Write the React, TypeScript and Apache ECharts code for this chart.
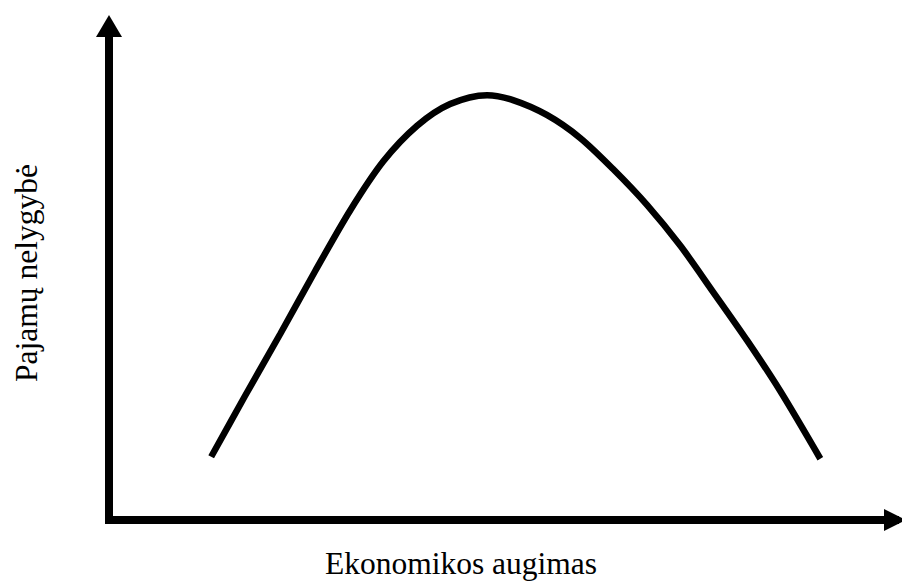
import React, { useEffect, useRef } from "react";
import * as echarts from "echarts";

// Kuznets curve (x: economic growth, y: income inequality)
const growth = [13.0, 17.3, 21.8, 26.2, 30.7, 34.9, 39.2, 43.4, 48.1, 51.4, 55.7, 59.9, 64.1, 68.5, 72.7, 76.8, 81.2, 85.4, 90.5];
const inequality = [12.8, 25.1, 37.7, 50.3, 62.7, 72.6, 79.8, 84.2, 86.0, 85.0, 82.0, 77.4, 71.1, 63.7, 55.5, 46.3, 36.3, 26.1, 12.4];
const xAxisTitle = "Ekonomikos augimas";
const yAxisTitle = "Pajamų nelygybė";

export default function App() {
  const ref = useRef<HTMLDivElement>(null);
  useEffect(() => {
    if (!ref.current) return;
    const chart = echarts.init(ref.current, undefined, { renderer: "svg" });
    const font = "Liberation Serif";
    chart.setOption({
      animation: false,
      backgroundColor: "#ffffff",
      textStyle: { fontFamily: font },
      grid: { left: 109, right: 7, top: 26, bottom: 59 },
      xAxis: {
        type: "value",
        min: 0,
        max: 100,
        name: xAxisTitle,
        nameLocation: "middle",
        nameGap: 27,
        nameTextStyle: { fontFamily: font, fontSize: 31.5, color: "#000", padding: [0, 82, 0, 0] },
        axisLine: {
          show: true,
          symbol: ["none", "triangle"],
          symbolSize: [22, 22],
          lineStyle: { color: "#000", width: 8, cap: "square" },
        },
        axisTick: { show: false },
        axisLabel: { show: false },
        splitLine: { show: false },
      },
      yAxis: {
        type: "value",
        min: 0,
        max: 100,
        name: yAxisTitle,
        nameLocation: "middle",
        nameRotate: 90,
        nameGap: 67,
        nameTextStyle: { fontFamily: font, fontSize: 31.5, color: "#000" },
        axisLine: {
          show: true,
          symbol: ["none", "triangle"],
          symbolSize: [26, 22],
          lineStyle: { color: "#000", width: 8, cap: "square" },
        },
        axisTick: { show: false },
        axisLabel: { show: false },
        splitLine: { show: false },
      },
      series: [
        {
          type: "line",
          data: growth.map((g, i) => [g, inequality[i]]),
          smooth: 0.3,
          showSymbol: false,
          lineStyle: { color: "#000", width: 6.5, cap: "butt" },
        },
      ],
    });
    return () => chart.dispose();
  }, []);
  return <div ref={ref} style={{ position: "fixed", left: 0, top: 0, width: 902, height: 584 }} />;
}
